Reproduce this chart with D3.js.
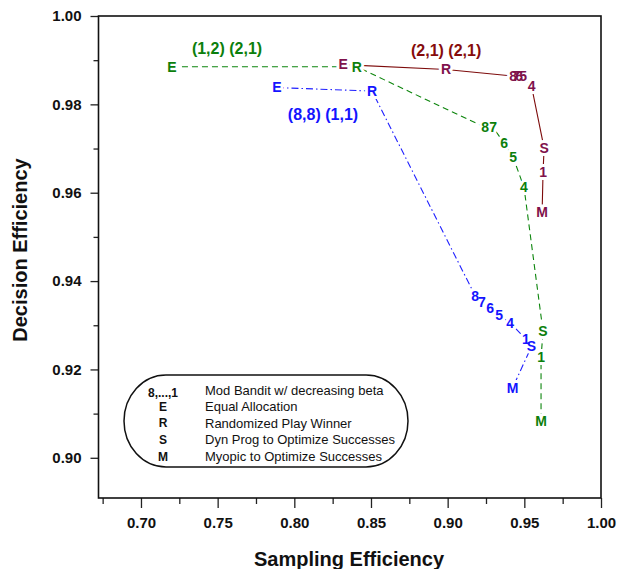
<!DOCTYPE html>
<html>
<head>
<meta charset="utf-8">
<script src="https://cdn.jsdelivr.net/npm/d3@7"></script>
<style>
  body { margin: 0; background: #fff; }
  svg { display: block; font-family: Arial, 'Liberation Sans', sans-serif; }
</style>
</head>
<body>
<svg id="chart" width="620" height="569"></svg>
<script>
// Tick values for both axes
const xMajorTicks = [0.70, 0.75, 0.80, 0.85, 0.90, 0.95, 1.00];
const xMinorTicks = [0.675, 0.725, 0.775, 0.825, 0.875, 0.925, 0.975];
const yMajorTicks = [0.90, 0.92, 0.94, 0.96, 0.98, 1.00];
const yMinorTicks = [0.91, 0.93, 0.95, 0.97, 0.99];

// Series (1,2) (2,1) - green dashed
const greenLabels = ['E', 'R', '8', '7', '6', '5', '4', 'S', '1', 'M'];
const greenX = [0.7202, 0.8407, 0.9244, 0.9296, 0.9368, 0.9427, 0.9498, 0.9622, 0.9609, 0.9609];
const greenY = [0.9885, 0.9885, 0.9748, 0.9748, 0.9712, 0.9680, 0.9612, 0.9286, 0.9227, 0.9084];

// Series (2,1) (2,1) - maroon solid
const maroonLabels = ['E', 'R', '8', '7', '6', '5', '4', 'S', '1', 'M'];
const maroonX = [0.8318, 0.8990, 0.9427, 0.9446, 0.9466, 0.9492, 0.9547, 0.9629, 0.9622, 0.9616];
const maroonY = [0.9890, 0.9879, 0.9864, 0.9864, 0.9864, 0.9864, 0.9841, 0.9701, 0.9646, 0.9556];

// Series (8,8) (1,1) - blue dash-dot
const blueLabels = ['E', 'R', '8', '7', '6', '5', '4', '1', 'S', 'M'];
const blueX = [0.7887, 0.8507, 0.9179, 0.9224, 0.9277, 0.9335, 0.9407, 0.9511, 0.9547, 0.9423];
const blueY = [0.9838, 0.9830, 0.9367, 0.9352, 0.9338, 0.9322, 0.9306, 0.9268, 0.9252, 0.9158];

// Prior annotations for each series
const pairNames = ['(1,2) (2,1)', '(2,1) (2,1)', '(8,8) (1,1)'];
const pairX = [0.7561, 0.8990, 0.8187];
const pairY = [0.9927, 0.9922, 0.9778];

// Legend
const legendKeys = ['8,...,1', 'E', 'R', 'S', 'M'];
const legendNames = ['Mod Bandit w/ decreasing beta', 'Equal Allocation', 'Randomized Play Winner',
    'Dyn Prog to Optimize Successes', 'Myopic to Optimize Successes'];

const zip = (labels, xs, ys) => labels.map((label, i) => ({ label, x: xs[i], y: ys[i] }));

const series = [
    { points: zip(greenLabels, greenX, greenY), text: '#0c7f0c', line: '#0c850c', dash: '6,4' },
    { points: zip(maroonLabels, maroonX, maroonY), text: '#7f124c', line: '#7d0b0b', dash: null },
    { points: zip(blueLabels, blueX, blueY), text: '#1414ff', line: '#2020ff', dash: '7,3,1.5,3' }
];
const pairColours = ['#0c7f0c', '#860c0c', '#1414ff'];

// plot frame in pixels
const frame = { left: 98.5, right: 601, top: 16, bottom: 498 };

const svg = d3.select('#chart');

const x = d3.scaleLinear().domain([0.6723, 1.0]).range([frame.left, frame.right]);
const y = d3.scaleLinear().domain([0.8909, 1.0]).range([frame.bottom, frame.top]);

// x axis hangs below the frame
const xAxis = svg.append('g').attr('transform', `translate(0,${frame.bottom})`);
xAxis.call(d3.axisBottom(x).tickValues(xMajorTicks).tickSize(10).tickPadding(9).tickFormat(d3.format('.2f')));
xAxis.append('g').call(d3.axisBottom(x).tickValues(xMinorTicks).tickSize(6).tickFormat(''));

const yAxis = svg.append('g').attr('transform', `translate(${frame.left},0)`);
yAxis.call(d3.axisLeft(y).tickValues(yMajorTicks).tickSize(8).tickPadding(9).tickFormat(d3.format('.2f')));
yAxis.append('g').call(d3.axisLeft(y).tickValues(yMinorTicks).tickSize(5).tickFormat(''));

svg.selectAll('.domain').remove();
svg.selectAll('.tick line').attr('stroke', '#222').attr('stroke-width', 1.3);
svg.selectAll('.tick text')
    .attr('font-family', 'Arial, "Liberation Sans", sans-serif')
    .attr('font-size', 15)
    .attr('font-weight', 'bold')
    .attr('fill', '#111');

// frame
svg.append('rect')
    .attr('x', frame.left).attr('y', frame.top)
    .attr('width', frame.right - frame.left).attr('height', frame.bottom - frame.top)
    .attr('fill', 'none').attr('stroke', '#111').attr('stroke-width', 1.6);

// axis titles
svg.append('text')
    .attr('x', 349).attr('y', 566)
    .attr('text-anchor', 'middle')
    .attr('font-size', 20).attr('font-weight', 'bold').attr('fill', '#111')
    .text('Sampling Efficiency');

svg.append('text')
    .attr('transform', 'translate(27,250) rotate(-90)')
    .attr('text-anchor', 'middle')
    .attr('font-size', 20).attr('font-weight', 'bold').attr('fill', '#111')
    .text('Decision Efficiency');

// series lines
const line = d3.line().x(d => x(d.x)).y(d => y(d.y));
svg.append('g').selectAll('path')
    .data(series)
    .join('path')
    .attr('d', d => line(d.points))
    .attr('fill', 'none')
    .attr('stroke', d => d.line)
    .attr('stroke-width', 1.1)
    .attr('stroke-dasharray', d => d.dash);

// white halos first so the lines break around the letters, then the letters
const allPoints = series.flatMap(s => s.points.map(p => ({ ...p, colour: s.text })));
const halo = svg.append('g');
const letters = svg.append('g');
[halo, letters].forEach((layer, i) => {
    layer.selectAll('text')
        .data(allPoints)
        .join('text')
        .attr('x', d => x(d.x))
        .attr('y', d => y(d.y))
        .attr('dy', '0.35em')
        .attr('text-anchor', 'middle')
        .attr('font-size', 14)
        .attr('font-weight', 'bold')
        .attr('fill', d => i === 0 ? '#fff' : d.colour)
        .attr('stroke', i === 0 ? '#fff' : null)
        .attr('stroke-width', i === 0 ? 6 : null)
        .attr('stroke-linejoin', 'round')
        .text(d => d.label);
});

// pair annotations
svg.append('g').selectAll('text')
    .data(pairNames)
    .join('text')
    .attr('x', (d, i) => x(pairX[i]))
    .attr('y', (d, i) => y(pairY[i]))
    .attr('dy', '0.35em')
    .attr('text-anchor', 'middle')
    .attr('font-size', 16)
    .attr('font-weight', 'bold')
    .attr('fill', (d, i) => pairColours[i])
    .text(d => d);

// legend: a rounded box with elliptical ends
const legend = svg.append('g').attr('transform', 'translate(124,375)');
legend.append('rect')
    .attr('width', 284).attr('height', 92)
    .attr('rx', 42).attr('ry', 46)
    .attr('fill', '#fff').attr('stroke', '#111').attr('stroke-width', 1.5);

const row = legend.selectAll('g.row')
    .data(legendKeys)
    .join('g')
    .attr('class', 'row')
    .attr('transform', (d, i) => `translate(0,${15 + i * 16.6})`);

row.append('text')
    .attr('x', 39)
    .attr('y', (d, i) => i === 0 ? 3 : 0)
    .attr('dy', '0.35em')
    .attr('text-anchor', 'middle')
    .attr('font-size', 12).attr('font-weight', 'bold').attr('fill', '#111')
    .text(d => d);

row.append('text')
    .attr('x', 81)
    .attr('dy', '0.35em')
    .attr('font-size', 13).attr('fill', '#111')
    .text((d, i) => legendNames[i]);
</script>
</body>
</html>
